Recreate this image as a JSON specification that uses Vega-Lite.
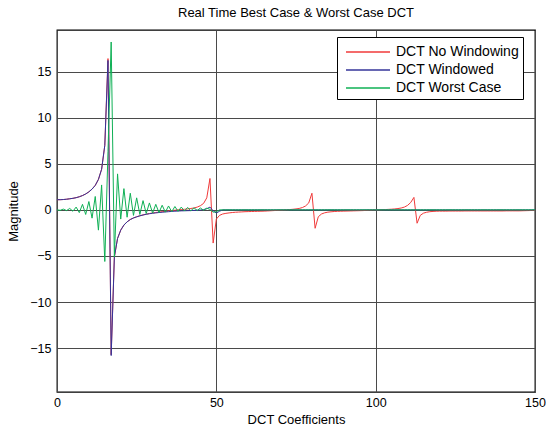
{
  "$schema": "https://vega.github.io/schema/vega-lite/v6.json",
  "autosize": "none",
  "width": 478,
  "height": 362,
  "padding": {"left": 57, "top": 30, "right": 11, "bottom": 41},
  "background": "#ffffff",
  "title": {"text": "Real Time Best Case & Worst Case DCT", "fontSize": 13, "fontWeight": "normal", "font": "Liberation Sans", "color": "#000", "offset": 10, "anchor": "middle"},
  "config": {
    "font": "Liberation Sans",
    "view": {"stroke": "#000", "strokeWidth": 1.3},
    "axis": {"labelFont": "Liberation Sans", "titleFont": "Liberation Sans", "labelFontSize": 12.5, "titleFontSize": 13, "titleFontWeight": "normal", "labelColor": "#000", "titleColor": "#000", "ticks": false, "domain": false, "grid": true, "gridColor": "#4a4a4a", "gridOpacity": 1, "gridWidth": 1},
    "legend": {"labelFont": "Liberation Sans"}
  },
  "data": {"values": [
    {"x":0,"r":1.1,"b":1.1,"g":0},
    {"x":1,"r":1.1,"b":1.1,"g":-0.05},
    {"x":2,"r":1.12,"b":1.12,"g":0.08},
    {"x":3,"r":1.15,"b":1.15,"g":-0.08},
    {"x":4,"r":1.2,"b":1.2,"g":0.15},
    {"x":5,"r":1.25,"b":1.25,"g":-0.15},
    {"x":6,"r":1.32,"b":1.32,"g":0.3},
    {"x":7,"r":1.42,"b":1.42,"g":-0.3},
    {"x":8,"r":1.55,"b":1.55,"g":0.6},
    {"x":9,"r":1.72,"b":1.72,"g":-0.5},
    {"x":10,"r":1.95,"b":1.95,"g":0.9},
    {"x":11,"r":2.25,"b":2.25,"g":-0.9},
    {"x":12,"r":2.65,"b":2.65,"g":1.45},
    {"x":13,"r":3.3,"b":3.3,"g":-2.2},
    {"x":14,"r":4.4,"b":4.4,"g":2.7},
    {"x":15,"r":7.0,"b":7.0,"g":-5.6},
    {"x":16,"r":16.4,"b":16.2,"g":6.3},
    {"x":17,"r":-15.7,"b":-15.8,"g":18.2},
    {"x":18,"r":-5.1,"b":-5.1,"g":-5.1},
    {"x":19,"r":-3.1,"b":-3.1,"g":3.9},
    {"x":20,"r":-2.2,"b":-2.2,"g":-1.0},
    {"x":21,"r":-1.65,"b":-1.65,"g":2.3},
    {"x":22,"r":-1.3,"b":-1.3,"g":-0.8},
    {"x":23,"r":-1.05,"b":-1.05,"g":1.8},
    {"x":24,"r":-0.88,"b":-0.88,"g":-0.6},
    {"x":25,"r":-0.75,"b":-0.76,"g":1.3},
    {"x":26,"r":-0.64,"b":-0.65,"g":-0.5},
    {"x":27,"r":-0.55,"b":-0.56,"g":1.0},
    {"x":28,"r":-0.47,"b":-0.48,"g":-0.4},
    {"x":29,"r":-0.4,"b":-0.42,"g":0.75},
    {"x":30,"r":-0.34,"b":-0.37,"g":-0.35},
    {"x":31,"r":-0.29,"b":-0.33,"g":0.6},
    {"x":32,"r":-0.24,"b":-0.29,"g":-0.3},
    {"x":33,"r":-0.2,"b":-0.26,"g":0.5},
    {"x":34,"r":-0.16,"b":-0.23,"g":-0.25},
    {"x":35,"r":-0.12,"b":-0.2,"g":0.42},
    {"x":36,"r":-0.08,"b":-0.17,"g":-0.2},
    {"x":37,"r":-0.04,"b":-0.15,"g":0.36},
    {"x":38,"r":0.0,"b":-0.13,"g":-0.16},
    {"x":39,"r":0.03,"b":-0.11,"g":0.3},
    {"x":40,"r":0.06,"b":-0.1,"g":-0.13},
    {"x":41,"r":0.1,"b":-0.09,"g":0.26},
    {"x":42,"r":0.15,"b":-0.08,"g":-0.1},
    {"x":43,"r":0.2,"b":-0.06,"g":0.22},
    {"x":44,"r":0.3,"b":-0.04,"g":-0.07},
    {"x":45,"r":0.45,"b":-0.02,"g":0.2},
    {"x":46,"r":0.7,"b":0.03,"g":-0.04},
    {"x":47,"r":1.3,"b":0.12,"g":0.18},
    {"x":48,"r":3.4,"b":0.3,"g":0.05},
    {"x":49,"r":-3.6,"b":-0.1,"g":-0.25},
    {"x":50,"r":-1.0,"b":-0.35,"g":-0.2},
    {"x":51,"r":-0.6,"b":-0.15,"g":0},
    {"x":52,"r":-0.45,"b":0,"g":0},
    {"x":53,"r":-0.38,"b":0,"g":0},
    {"x":54,"r":-0.33,"b":0,"g":0},
    {"x":55,"r":-0.29,"b":0,"g":0},
    {"x":56,"r":-0.26,"b":0,"g":0},
    {"x":57,"r":-0.24,"b":0,"g":0},
    {"x":58,"r":-0.22,"b":0,"g":0},
    {"x":59,"r":-0.2,"b":0,"g":0},
    {"x":60,"r":-0.19,"b":0,"g":0},
    {"x":61,"r":-0.18,"b":0,"g":0},
    {"x":62,"r":-0.17,"b":0,"g":0},
    {"x":63,"r":-0.16,"b":0,"g":0},
    {"x":64,"r":-0.15,"b":0,"g":0},
    {"x":65,"r":-0.14,"b":0,"g":0},
    {"x":66,"r":-0.12,"b":0,"g":0},
    {"x":67,"r":-0.1,"b":0,"g":0},
    {"x":68,"r":-0.08,"b":0,"g":0},
    {"x":69,"r":-0.06,"b":0,"g":0},
    {"x":70,"r":-0.04,"b":0,"g":0},
    {"x":71,"r":-0.02,"b":0,"g":0},
    {"x":72,"r":0.0,"b":0,"g":0},
    {"x":73,"r":0.03,"b":0,"g":0},
    {"x":74,"r":0.06,"b":0,"g":0},
    {"x":75,"r":0.1,"b":0,"g":0},
    {"x":76,"r":0.15,"b":0,"g":0},
    {"x":77,"r":0.25,"b":0,"g":0},
    {"x":78,"r":0.42,"b":0,"g":0},
    {"x":79,"r":0.75,"b":0,"g":0},
    {"x":80,"r":1.8,"b":0,"g":0},
    {"x":81,"r":-2.0,"b":0,"g":0},
    {"x":82,"r":-0.75,"b":0,"g":0},
    {"x":83,"r":-0.45,"b":0,"g":0},
    {"x":84,"r":-0.32,"b":0,"g":0},
    {"x":85,"r":-0.25,"b":0,"g":0},
    {"x":86,"r":-0.21,"b":0,"g":0},
    {"x":87,"r":-0.18,"b":0,"g":0},
    {"x":88,"r":-0.16,"b":0,"g":0},
    {"x":89,"r":-0.15,"b":0,"g":0},
    {"x":90,"r":-0.14,"b":0,"g":0},
    {"x":91,"r":-0.13,"b":0,"g":0},
    {"x":92,"r":-0.12,"b":0,"g":0},
    {"x":93,"r":-0.11,"b":0,"g":0},
    {"x":94,"r":-0.1,"b":0,"g":0},
    {"x":95,"r":-0.09,"b":0,"g":0},
    {"x":96,"r":-0.08,"b":0,"g":0},
    {"x":97,"r":-0.06,"b":0,"g":0},
    {"x":98,"r":-0.04,"b":0,"g":0},
    {"x":99,"r":-0.02,"b":0,"g":0},
    {"x":100,"r":0.0,"b":0,"g":0},
    {"x":101,"r":0.0,"b":0,"g":0},
    {"x":102,"r":0.02,"b":0,"g":0},
    {"x":103,"r":0.03,"b":0,"g":0},
    {"x":104,"r":0.05,"b":0,"g":0},
    {"x":105,"r":0.07,"b":0,"g":0},
    {"x":106,"r":0.1,"b":0,"g":0},
    {"x":107,"r":0.14,"b":0,"g":0},
    {"x":108,"r":0.2,"b":0,"g":0},
    {"x":109,"r":0.3,"b":0,"g":0},
    {"x":110,"r":0.48,"b":0,"g":0},
    {"x":111,"r":0.8,"b":0,"g":0},
    {"x":112,"r":1.35,"b":0,"g":0},
    {"x":113,"r":-1.45,"b":0,"g":0},
    {"x":114,"r":-0.6,"b":0,"g":0},
    {"x":115,"r":-0.36,"b":0,"g":0},
    {"x":116,"r":-0.26,"b":0,"g":0},
    {"x":117,"r":-0.2,"b":0,"g":0},
    {"x":118,"r":-0.17,"b":0,"g":0},
    {"x":119,"r":-0.15,"b":0,"g":0},
    {"x":120,"r":-0.14,"b":0,"g":0},
    {"x":121,"r":-0.14,"b":0,"g":0},
    {"x":122,"r":-0.14,"b":0,"g":0},
    {"x":123,"r":-0.13,"b":0,"g":0},
    {"x":124,"r":-0.13,"b":0,"g":0},
    {"x":125,"r":-0.13,"b":0,"g":0},
    {"x":126,"r":-0.13,"b":0,"g":0},
    {"x":127,"r":-0.13,"b":0,"g":0},
    {"x":128,"r":-0.12,"b":0,"g":0},
    {"x":129,"r":-0.12,"b":0,"g":0},
    {"x":130,"r":-0.12,"b":0,"g":0},
    {"x":131,"r":-0.12,"b":0,"g":0},
    {"x":132,"r":-0.12,"b":0,"g":0},
    {"x":133,"r":-0.12,"b":0,"g":0},
    {"x":134,"r":-0.12,"b":0,"g":0},
    {"x":135,"r":-0.12,"b":0,"g":0},
    {"x":136,"r":-0.12,"b":0,"g":0},
    {"x":137,"r":-0.12,"b":0,"g":0},
    {"x":138,"r":-0.12,"b":0,"g":0},
    {"x":139,"r":-0.12,"b":0,"g":0},
    {"x":140,"r":-0.12,"b":0,"g":0},
    {"x":141,"r":-0.11,"b":0,"g":0},
    {"x":142,"r":-0.11,"b":0,"g":0},
    {"x":143,"r":-0.11,"b":0,"g":0},
    {"x":144,"r":-0.11,"b":0,"g":0},
    {"x":145,"r":-0.11,"b":0,"g":0},
    {"x":146,"r":-0.1,"b":0,"g":0},
    {"x":147,"r":-0.09,"b":0,"g":0},
    {"x":148,"r":-0.08,"b":0,"g":0},
    {"x":149,"r":-0.07,"b":0,"g":0},
    {"x":150,"r":-0.06,"b":0,"g":0}
  ]},
  "transform": [{"fold": ["r", "b", "g"], "as": ["series", "value"]}],
  "mark": {"type": "line", "strokeWidth": 1, "clip": true},
  "encoding": {
    "x": {"field": "x", "type": "quantitative", "scale": {"domain": [0, 150], "nice": false, "zero": false},
          "axis": {"title": "DCT Coefficients", "values": [0, 50, 100, 150], "labelFlush": false, "labelPadding": 4, "titlePadding": 5}},
    "y": {"field": "value", "type": "quantitative", "scale": {"domain": [-19.75, 19.5], "nice": false, "zero": false},
          "axis": {"title": "Magnitude", "values": [-15, -10, -5, 0, 5, 10, 15], "labelPadding": 6, "titlePadding": 9}},
    "color": {"field": "series", "type": "nominal",
              "scale": {"domain": ["r", "b", "g"], "range": ["#f03a3a", "#34349a", "#0fb055"]},
              "legend": {"title": null, "orient": "none", "legendX": 280, "legendY": 7,
                         "labelExpr": "datum.label == 'r' ? 'DCT No Windowing' : datum.label == 'b' ? 'DCT Windowed' : 'DCT Worst Case'",
                         "symbolType": "M-2.2,0H2.2", "symbolSize": 400, "symbolStrokeWidth": 1.5, "symbolOffset": 16,
                         "labelFontSize": 14, "labelColor": "#000", "labelOffset": 17,
                         "strokeColor": "#000", "fillColor": "#fff", "padding": 4, "rowPadding": 0}}
  }
}
